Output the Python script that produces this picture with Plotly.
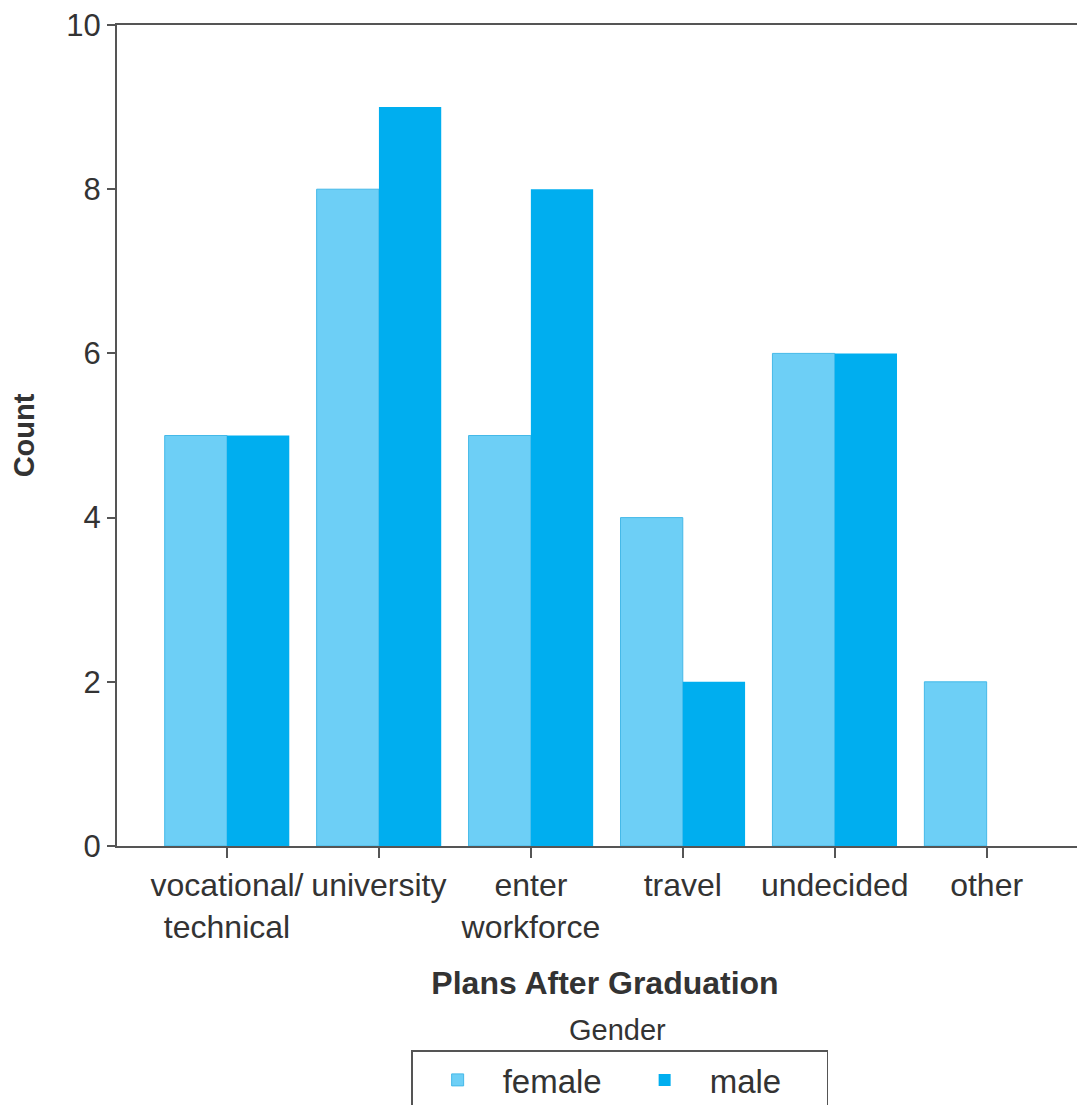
import plotly.graph_objects as go

# plans after graduation, counts by gender
plans = ["vocational/<br>technical", "university", "enter<br>workforce",
         "travel", "undecided", "other"]
female = [5, 8, 5, 4, 6, 2]
male = [5, 9, 8, 2, 6, 0]

font = "Liberation Sans, Arial, Helvetica, sans-serif"

fig = go.Figure()
fig.add_trace(go.Bar(x=plans, y=female, name="female",
                     marker=dict(color="#6dcff6", line=dict(color="#45b9e8", width=1))))
fig.add_trace(go.Bar(x=plans, y=male, name="male",
                     marker=dict(color="#00aeef", line=dict(width=0))))

# page body has an 8px margin, so offsets are shifted by that
fig.update_layout(
    width=1085, height=1105,
    margin=dict(l=109, r=0, t=17, b=267, autoexpand=False),
    plot_bgcolor="white", paper_bgcolor="white",
    barmode="group", bargap=0.18, bargroupgap=0,
    font=dict(family=font, size=33, color="#333"),
    showlegend=True,
    legend=dict(orientation="h", x=0.515, xanchor="center", y=-0.249, yanchor="top",
                bordercolor="#555", borderwidth=1.5, font=dict(size=33),
                itemwidth=80, entrywidth=112, tracegroupgap=0),
    annotations=[dict(text="Gender", xref="paper", yref="paper", x=0.513, y=-0.224,
                      xanchor="center", yanchor="middle", showarrow=False,
                      font=dict(size=29, color="#333"))],
)
fig.update_xaxes(
    range=[-0.724, 5.70], showline=True, linecolor="#555", linewidth=2, mirror=True,
    ticks="outside", ticklen=10, tickcolor="#555", tickwidth=2,
    showgrid=False, tickfont=dict(size=32), automargin=False,
    ticklabeloverflow="allow",
    title=dict(text="<b>Plans After Graduation</b>", standoff=28, font=dict(size=32)),
)
fig.update_yaxes(
    range=[0, 10], dtick=2, showline=True, linecolor="#555", linewidth=2,
    ticks="outside", ticklen=8, tickcolor="#555", tickwidth=2,
    showgrid=False, zeroline=False, tickfont=dict(size=31), automargin=False,
    ticklabeloverflow="allow",
    title=dict(text="<b>Count</b>", standoff=26, font=dict(size=29)),
)

fig.write_html("out.html")
